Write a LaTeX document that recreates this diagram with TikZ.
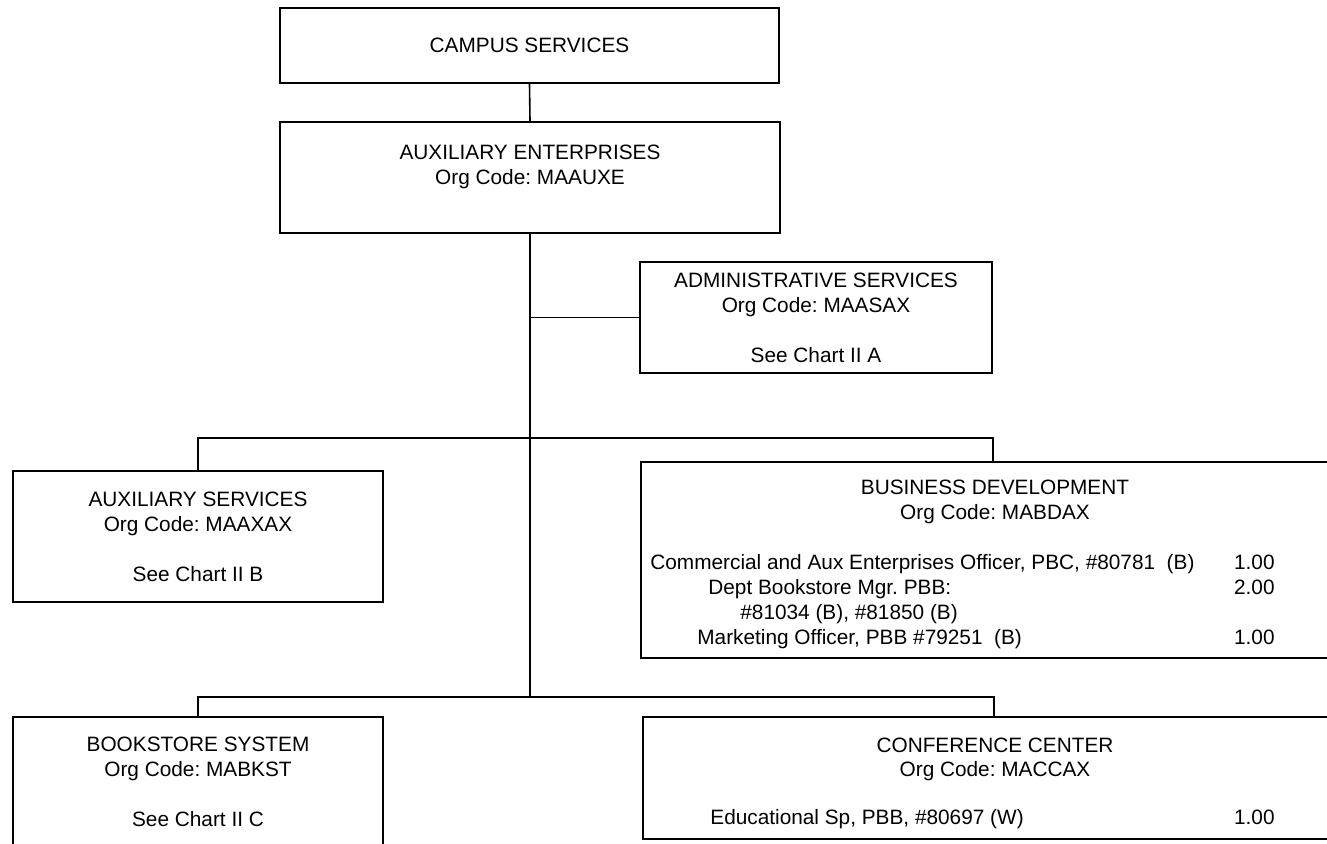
\documentclass[tikz,border=0pt]{standalone}
\usepackage{fontspec}
\setmainfont{Liberation Sans}
\frenchspacing
\newcommand{\orgfont}{\fontsize{10.4}{12.5}\selectfont}
\begin{document}
\begin{tikzpicture}[x=0.5pt,y=-0.5pt,
  box/.style={draw, line width=1pt, inner sep=0pt, align=center, font=\orgfont},
  link/.style={line width=0.8pt},
  txt/.style={inner sep=0pt, font=\orgfont}]
\clip (0,0) rectangle (1327,843);
\fill[white] (0,0) rectangle (1327,843);

% boxes
\node[box, minimum width=249.5pt, minimum height=37.5pt] (campus) at (529.5,45.5) {CAMPUS SERVICES};
\node[box, minimum width=250pt, minimum height=55.5pt] (auxent) at (530,177.5)
  {AUXILIARY ENTERPRISES\\Org Code: MAAUXE\\~};
\node[box, minimum width=176pt, minimum height=55.5pt] (admin) at (816,317.5)
  {ADMINISTRATIVE SERVICES\\Org Code: MAASAX\\[12.5pt]See Chart II A};
\node[box, minimum width=185pt, minimum height=65.5pt] (auxsvc) at (198,536.5)
  {AUXILIARY SERVICES\\Org Code: MAAXAX\\[12.5pt]See Chart II B};
\node[box, minimum width=352pt, minimum height=98pt] (busdev) at (993,560) {};
\node[box, minimum width=185pt, minimum height=64.5pt] (books) at (198,781.5)
  {BOOKSTORE SYSTEM\\Org Code: MABKST\\[12.5pt]See Chart II C};
\node[box, minimum width=351pt, minimum height=61pt] (conf) at (994,778) {};

% business development text
\node[txt, anchor=base] (bdt) at (995,494) {BUSINESS DEVELOPMENT};
\node[txt, anchor=base] (bdc) at (995,519) {Org Code: MABDAX};
\node[txt, anchor=base west] (bd1) at (650,569) {Commercial and Aux Enterprises Officer, PBC, \#80781\ \ (B)};
\node[txt, anchor=base east] (bd1n) at (1275,569) {1.00};
\node[txt, anchor=base west] (bd2) at (708,594) {Dept Bookstore Mgr. PBB:};
\node[txt, anchor=base east] (bd2n) at (1275,594) {2.00};
\node[txt, anchor=base west] (bd3) at (740,619) {\#81034 (B), \#81850 (B)};
\node[txt, anchor=base west] (bd4) at (697,644) {Marketing Officer, PBB \#79251\ \ (B)};
\node[txt, anchor=base east] (bd4n) at (1275,644) {1.00};

% conference center text
\node[txt, anchor=base] (cct) at (995,752) {CONFERENCE CENTER};
\node[txt, anchor=base] (ccc) at (995,776) {Org Code: MACCAX};
\node[txt, anchor=base west] (cc1) at (710,824) {Educational Sp, PBB, \#80697 (W)};
\node[txt, anchor=base east] (cc1n) at (1275,824) {1.00};

% junctions
\coordinate (j1) at (530,438);
\coordinate (j2) at (530,697);

% connectors
\draw[link] (campus.south) -- (auxent.north);
\draw[link] (auxent.south) -- (auxent.south |- j2);
\draw[link] (auxent.south |- admin.west) -- (admin.west);
\draw[link] (auxsvc.north) -- (auxsvc.north |- j1) -- (busdev.north |- j1) -- (busdev.north);
\draw[link] (books.north) -- (books.north |- j2) -- (conf.north |- j2) -- (conf.north);
\end{tikzpicture}
\end{document}
